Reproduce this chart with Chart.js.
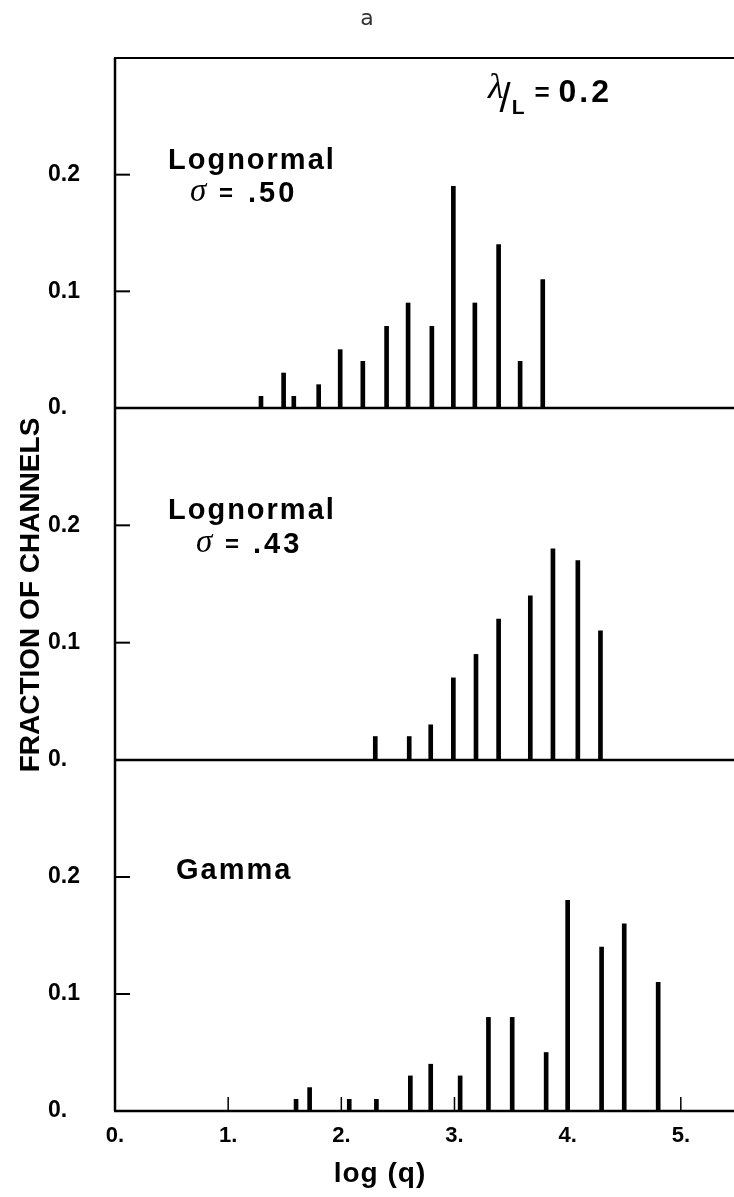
<!DOCTYPE html>
<html>
<head>
<meta charset="utf-8">
<script src="https://cdn.jsdelivr.net/npm/chart.js@4.4.1/dist/chart.umd.min.js"></script>
<style>
  html, body { margin: 0; padding: 0; background: #fff; }
  #wrap { position: relative; width: 734px; height: 1197px; overflow: hidden; }
  canvas { position: absolute; left: 0; }
</style>
</head>
<body>
<div id="wrap">
  <canvas id="p1" width="734" height="428" style="top:0px"></canvas>
  <canvas id="p2" width="734" height="392" style="top:388px"></canvas>
  <canvas id="p3" width="734" height="457" style="top:740px"></canvas>
</div>
<script>
// values (log q position, fraction of channels)
const lognormal50X = [1.29, 1.49, 1.58, 1.80, 1.99, 2.19, 2.40, 2.59, 2.80, 2.99, 3.18, 3.39, 3.58, 3.78];
const lognormal50Y = [0.01, 0.03, 0.01, 0.02, 0.05, 0.04, 0.07, 0.09, 0.07, 0.19, 0.09, 0.14, 0.04, 0.11];

const lognormal43X = [2.30, 2.60, 2.79, 2.99, 3.19, 3.39, 3.67, 3.87, 4.09, 4.29];
const lognormal43Y = [0.02, 0.02, 0.03, 0.07, 0.09, 0.12, 0.14, 0.18, 0.17, 0.11];

const gammaX = [1.60, 1.72, 2.07, 2.31, 2.61, 2.79, 3.05, 3.30, 3.51, 3.81, 4.00, 4.30, 4.50, 4.80];
const gammaY = [0.01, 0.02, 0.01, 0.01, 0.03, 0.04, 0.03, 0.08, 0.08, 0.05, 0.18, 0.14, 0.16, 0.11];

const xTicks = [0, 1, 2, 3, 4, 5];
const yTicks = [0, 0.1, 0.2];

const SANS = "'Liberation Sans', Arial, sans-serif";
const SERIF = "'Liberation Serif', 'DejaVu Serif', serif";

function txt(ctx, str, x, y, font, spacing, align) {
    ctx.save();
    ctx.font = font;
    ctx.letterSpacing = (spacing || 0) + 'px';
    ctx.textAlign = align || 'left';
    ctx.textBaseline = 'alphabetic';
    ctx.fillStyle = '#000';
    ctx.fillText(str, x, y);
    const w = ctx.measureText(str).width;
    ctx.restore();
    return w;
}

function line(ctx, x1, y1, x2, y2, w) {
    ctx.beginPath();
    ctx.lineWidth = w;
    ctx.moveTo(x1, y1);
    ctx.lineTo(x2, y2);
    ctx.stroke();
}

// frame, inward ticks and labels for one panel
function framePlugin(opts) {
    return {
        id: 'frame',
        afterDatasetsDraw(chart) {
            const ctx = chart.ctx;
            const ca = chart.chartArea;
            const ys = chart.scales.y;
            const xs = chart.scales.x;
            const y0 = ys.getPixelForValue(0);
            ctx.save();
            ctx.strokeStyle = '#000';
            line(ctx, ca.left, ca.top, ca.left, ca.bottom, 2.5);
            line(ctx, ca.left - 1, y0, ca.right, y0, 2.5);
            if (opts.topLine) line(ctx, ca.left - 1, ca.top, ca.right, ca.top, 2);

            // y ticks point into the plot
            yTicks.filter(v => v > 0).forEach(v => {
                const py = ys.getPixelForValue(v);
                line(ctx, ca.left, py, ca.left + 15, py, 2);
            });
            // x ticks only on the bottom panel, pointing up
            if (opts.bottom) {
                xTicks.filter(v => v > 0).forEach(v => {
                    const px = xs.getPixelForValue(v);
                    line(ctx, px, y0, px, y0 - 14, 1.5);
                });
            }
            if (opts.draw) opts.draw(ctx);
            ctx.restore();
        }
    };
}

function makePanel(id, xs, ys, opts) {
    const pts = xs.map((x, i) => ({ x: x, y: ys[i] }));
    return new Chart(document.getElementById(id), {
        type: 'bar',
        data: {
            datasets: [{
                data: pts,
                backgroundColor: '#000',
                borderWidth: 0,
                barThickness: 4
            }]
        },
        options: {
            responsive: false,
            animation: false,
            events: [],
            layout: { padding: { left: 48, right: 0, top: opts.padTop, bottom: opts.bottom ? 0 : 20 } },
            plugins: { legend: { display: false }, tooltip: { enabled: false } },
            scales: {
                x: {
                    type: 'linear',
                    min: 0,
                    max: 5.47,
                    offset: false,
                    display: !!opts.bottom,
                    grid: { display: false, drawTicks: false },
                    border: { display: false },
                    afterBuildTicks: s => { s.ticks = xTicks.map(v => ({ value: v })); },
                    afterFit: s => { if (opts.bottom) s.height = 86; },
                    ticks: {
                        callback: v => v + '.',
                        color: '#000',
                        font: { family: SANS, size: 22, weight: 'bold' },
                        padding: 12,
                        maxRotation: 0,
                        autoSkip: false
                    }
                },
                y: {
                    min: 0,
                    max: 0.3,
                    grid: { display: false, drawTicks: false },
                    border: { display: false },
                    afterBuildTicks: s => { s.ticks = yTicks.map(v => ({ value: v })); },
                    afterFit: s => { s.width = 67; },
                    ticks: {
                        callback: v => v === 0 ? '0.' : v.toFixed(1),
                        crossAlign: 'far',
                        padding: 0,
                        color: '#000',
                        font: { family: SANS, size: 23, weight: 'bold' }
                    }
                }
            }
        },
        plugins: [framePlugin(opts)]
    });
}

makePanel('p1', lognormal50X, lognormal50Y, {
    padTop: 58,
    topLine: true,
    draw: ctx => {
        ctx.save();
        ctx.fillStyle = '#333';
        ctx.font = "22px 'DejaVu Sans', sans-serif";
        ctx.textAlign = 'center';
        ctx.fillText('a', 367, 25);
        ctx.restore();

        let x = 488;
        x += txt(ctx, 'λ', x, 98, 'italic 36px ' + SERIF);
        x += txt(ctx, '/', x - 4, 112, '40px ' + SANS) - 3;
        x += txt(ctx, 'L', x, 114, 'bold 21px ' + SANS);
        txt(ctx, '=', x + 10, 101, 'bold 26px ' + SANS);
        txt(ctx, '0.2', x + 34, 102, 'bold 32px ' + SANS, 3);

        txt(ctx, 'Lognormal', 168, 169, 'bold 29px ' + SANS, 2);
        txt(ctx, 'σ', 190, 201, 'italic 33px ' + SERIF);
        txt(ctx, '=', 219, 201, 'bold 24px ' + SANS);
        txt(ctx, '.50', 248, 202, 'bold 29px ' + SANS, 3);
    }
});

makePanel('p2', lognormal43X, lognormal43Y, {
    padTop: 20,
    draw: ctx => {
        txt(ctx, 'Lognormal', 168, 519 - 388, 'bold 29px ' + SANS, 2);
        txt(ctx, 'σ', 196, 552 - 388, 'italic 33px ' + SERIF);
        txt(ctx, '=', 225, 552 - 388, 'bold 24px ' + SANS);
        txt(ctx, '.43', 253, 553 - 388, 'bold 29px ' + SANS, 3);

        // shared y title, centred on the middle panel
        ctx.save();
        ctx.translate(31, 595 - 388);
        ctx.rotate(-Math.PI / 2);
        ctx.font = 'bold 28px ' + SANS;
        ctx.textAlign = 'center';
        ctx.textBaseline = 'middle';
        ctx.fillStyle = '#000';
        ctx.fillText('FRACTION OF CHANNELS', 0, 0);
        ctx.restore();
    }
});

makePanel('p3', gammaX, gammaY, {
    padTop: 20,
    bottom: true,
    draw: ctx => {
        txt(ctx, 'Gamma', 176, 879 - 740, 'bold 29px ' + SANS, 2);
        txt(ctx, 'log (q)', 380, 1182 - 740, 'bold 28px ' + SANS, 1, 'center');
    }
});
</script>
</body>
</html>
